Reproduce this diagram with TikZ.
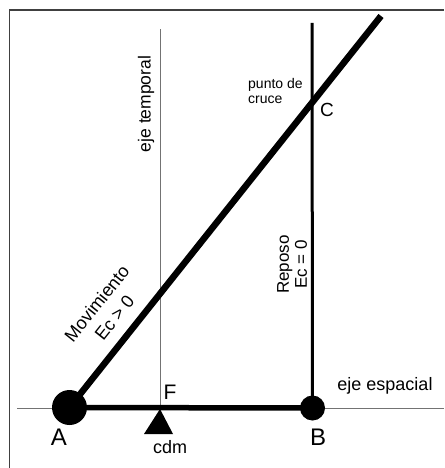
\documentclass[tikz,border=0pt]{standalone}
\usepackage{fontspec}
\setmainfont{Liberation Sans}
\begin{document}
\begin{tikzpicture}[x=1pt,y=-1pt,
  thinline/.style={draw=black!55,line width=1pt},
  frameline/.style={draw=black!75,line width=1.5pt},
  lbl/.style={inner sep=0pt,font=\fontsize{17}{19}\selectfont},
  biglbl/.style={inner sep=0pt,font=\fontsize{24}{26}\selectfont},
  dot/.style={circle,fill=black,inner sep=0pt}]
\useasboundingbox (0,0) rectangle (444,468);
\fill[white] (0,0) rectangle (444,468);
% frame
\draw[frameline] (9.5,468) -- (9.5,10) -- (444,10);
% coordinates
\coordinate (Fb) at (160,408);
\coordinate (Ft) at (160,29);
\coordinate (Bt) at (312,23);
\coordinate (Top) at (381,16);
\coordinate (Hl) at (17,408);
\coordinate (Hr) at (444,408);
% axes
\draw[thinline] (Hl) -- (Hr);
\draw[thinline] (Fb) -- (Ft);
% nodes
\node[dot,minimum size=35pt] (A) at (69.5,407.5) {};
\node[dot,minimum size=25pt] (B) at (312.5,408) {};
\draw[line width=5.5pt] (A.center) -- (B.center);
\draw[line width=3pt] (B.center) -- (Bt);
\draw[line width=6.5pt] (A.center) -- (Top);
\coordinate (C) at (312,103);
% triangle cdm
\fill (160,409) -- (173,434) -- (144,434) -- cycle;
% labels
\node[biglbl] (la) at (59,437) {A};
\node[biglbl] (lb) at (318,437) {B};
\node[lbl,font=\fontsize{21}{23}\selectfont] (lf) at (170,392) {F};
\node[lbl,font=\fontsize{18}{20}\selectfont] (lcdm) at (170,447) {cdm};
\node[lbl,font=\fontsize{18}{20}\selectfont] (lesp) at (385,386) {eje espacial};
\node[lbl,font=\fontsize{19}{21}\selectfont] (lc) at (327,110) {C};
\node[lbl,font=\fontsize{14}{15.5}\selectfont,align=left,anchor=north west] (lpc) at (248,78) {punto de\\cruce};
\node[lbl,font=\fontsize{17.5}{19}\selectfont,rotate=90] (ltemp) at (146,104) {eje temporal};
\node[lbl,font=\fontsize{17}{18}\selectfont,align=center,rotate=90] (lrep) at (292,264.5) {Reposo\\Ec = 0};
\node[lbl,font=\fontsize{18}{22.5}\selectfont,align=center,rotate=51.5] (lmov) at (105.5,310.5) {Movimiento\\Ec > 0};
\end{tikzpicture}
\end{document}
